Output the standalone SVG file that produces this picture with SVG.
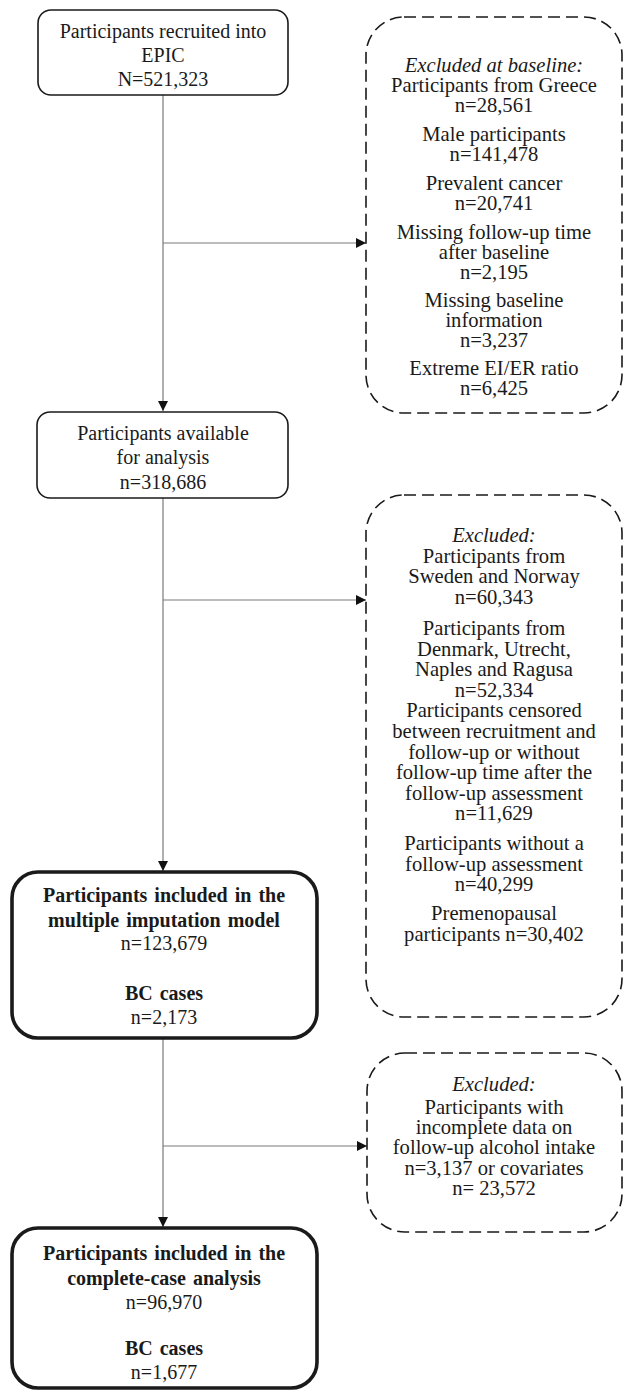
<svg xmlns="http://www.w3.org/2000/svg" width="624" height="1391" viewBox="0 0 624 1391">
<style>
text{font-family:"Liberation Serif","Times New Roman",serif;font-size:20px;fill:#1a1a1a;text-anchor:middle}
.r{font-size:20.6px}
.b{font-weight:bold;word-spacing:2px}
.i{font-style:italic}
.box{fill:#fff;stroke:#1a1a1a;stroke-width:1.6}
.thick{fill:#fff;stroke:#1a1a1a;stroke-width:3.6}
.dash{fill:#fff;stroke:#1a1a1a;stroke-width:1.6;stroke-dasharray:12 6}
.conn{fill:none;stroke:#7a7a7a;stroke-width:1.2}
</style>
<defs>
<marker id="ah" viewBox="0 0 10 10" refX="10" refY="5" markerWidth="10" markerHeight="10" markerUnits="userSpaceOnUse" orient="auto">
<path d="M0,0 L10,5 L0,10 Z" fill="#111"/>
</marker>
</defs>
<g id="connectors">
<line class="conn" x1="163" y1="95" x2="163" y2="411" marker-end="url(#ah)"/>
<line class="conn" x1="163" y1="243" x2="366" y2="243" marker-end="url(#ah)"/>
<line class="conn" x1="163" y1="498" x2="163" y2="871" marker-end="url(#ah)"/>
<line class="conn" x1="163" y1="600" x2="366" y2="600" marker-end="url(#ah)"/>
<line class="conn" x1="163" y1="1039" x2="163" y2="1227" marker-end="url(#ah)"/>
<line class="conn" x1="163" y1="1146" x2="367" y2="1146" marker-end="url(#ah)"/>
</g>
<g id="n1">
<rect class="box" x="38" y="10" width="250" height="85" rx="13"/>
<text x="163" y="38">Participants recruited into</text>
<text x="163" y="62">EPIC</text>
<text x="163" y="86">N=521,323</text>
</g>
<g id="n2">
<rect class="box" x="37" y="412" width="251" height="86" rx="13"/>
<text x="163" y="440">Participants available</text>
<text x="163" y="464">for analysis</text>
<text x="163" y="489">n=318,686</text>
</g>
<g id="n3">
<rect class="thick" x="12" y="872" width="305" height="166" rx="26"/>
<text class="b" x="164" y="902">Participants included in the</text>
<text class="b" x="164" y="927">multiple imputation model</text>
<text x="164" y="950">n=123,679</text>
<text class="b" x="164" y="1000">BC cases</text>
<text x="164" y="1024">n=2,173</text>
</g>
<g id="n4">
<rect class="thick" x="12" y="1228" width="305" height="160" rx="26"/>
<text class="b" x="164" y="1260">Participants included in the</text>
<text class="b" x="164" y="1285">complete-case analysis</text>
<text x="164" y="1309">n=96,970</text>
<text class="b" x="164" y="1355">BC cases</text>
<text x="164" y="1379">n=1,677</text>
</g>
<g id="e1">
<rect class="dash" x="366" y="17" width="256" height="396" rx="38"/>
<text class="r i" x="494" y="72">Excluded at baseline:</text>
<text class="r" x="494" y="92">Participants from Greece</text>
<text class="r" x="494" y="112">n=28,561</text>
<text class="r" x="494" y="141">Male participants</text>
<text class="r" x="494" y="161">n=141,478</text>
<text class="r" x="494" y="190">Prevalent cancer</text>
<text class="r" x="494" y="210">n=20,741</text>
<text class="r" x="494" y="239">Missing follow-up time</text>
<text class="r" x="494" y="259">after baseline</text>
<text class="r" x="494" y="279">n=2,195</text>
<text class="r" x="494" y="307">Missing baseline</text>
<text class="r" x="494" y="327">information</text>
<text class="r" x="494" y="347">n=3,237</text>
<text class="r" x="494" y="375">Extreme EI/ER ratio</text>
<text class="r" x="494" y="395">n=6,425</text>
</g>
<g id="e2">
<rect class="dash" x="366" y="495" width="256" height="522" rx="38"/>
<text class="r i" x="494" y="542">Excluded:</text>
<text class="r" x="494" y="563">Participants from</text>
<text class="r" x="494" y="583">Sweden and Norway</text>
<text class="r" x="494" y="604">n=60,343</text>
<text class="r" x="494" y="635">Participants from</text>
<text class="r" x="494" y="656">Denmark, Utrecht,</text>
<text class="r" x="494" y="676">Naples and Ragusa</text>
<text class="r" x="494" y="697">n=52,334</text>
<text class="r" x="494" y="717">Participants censored</text>
<text class="r" x="494" y="738">between recruitment and</text>
<text class="r" x="494" y="759">follow-up or without</text>
<text class="r" x="494" y="779">follow-up time after the</text>
<text class="r" x="494" y="800">follow-up assessment</text>
<text class="r" x="494" y="820">n=11,629</text>
<text class="r" x="494" y="850">Participants without a</text>
<text class="r" x="494" y="871">follow-up assessment</text>
<text class="r" x="494" y="891">n=40,299</text>
<text class="r" x="494" y="920">Premenopausal</text>
<text class="r" x="494" y="941">participants n=30,402</text>
</g>
<g id="e3">
<rect class="dash" x="367" y="1053" width="255" height="179" rx="38"/>
<text class="r i" x="494" y="1091">Excluded:</text>
<text class="r" x="494" y="1114">Participants with</text>
<text class="r" x="494" y="1134">incomplete data on</text>
<text class="r" x="494" y="1154">follow-up alcohol intake</text>
<text class="r" x="494" y="1175">n=3,137 or covariates</text>
<text class="r" x="494" y="1195">n= 23,572</text>
</g>
</svg>
